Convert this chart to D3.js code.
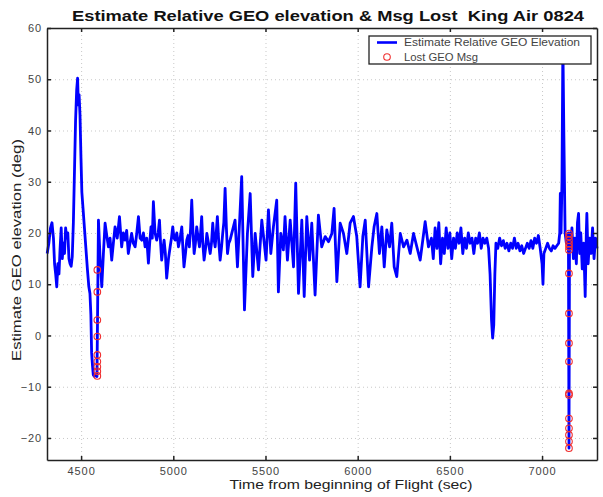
<!DOCTYPE html>
<html>
<head>
<meta charset="utf-8">
<script src="https://cdn.jsdelivr.net/npm/d3@7"></script>
<style>
  body { margin: 0; background: #fff; }
  svg { display: block; font-family: "Liberation Sans", Arial, Helvetica, sans-serif; }
  .axis path, .axis line { stroke: #222; stroke-width: 1.5; }
  .axis text { fill: #444; font-size: 11px; letter-spacing: 0.9px; }
  .grid line { stroke: #c8c8c8; stroke-dasharray: 1,3; }
  .grid path { display: none; }
</style>
</head>
<body>
<svg id="chart"></svg>
<script>
// Estimated relative GEO elevation (deg) vs. time from beginning of flight (sec)
const elevTime = [
  4316, 4325, 4334, 4342, 4350, 4356, 4362, 4368, 4374, 4380, 4386, 4392, 4398, 4404, 4410, 4416,
  4422, 4428, 4434, 4440, 4446, 4452, 4458, 4464, 4470, 4476, 4481, 4485, 4489, 4494, 4499, 4504,
  4510, 4518, 4526, 4534, 4542, 4548, 4553, 4557, 4562, 4566, 4572, 4580, 4586, 4589, 4594,
  4603, 4612, 4621, 4630, 4639, 4648, 4657, 4666, 4675, 4684, 4696, 4708, 4720, 4729, 4738, 4747,
  4756, 4765, 4774, 4783, 4793, 4802, 4811, 4820, 4829, 4838, 4847, 4856, 4865, 4872, 4879, 4886,
  4892, 4901, 4910, 4918, 4925, 4931, 4937, 4944, 4950, 4957, 4964, 4974, 4983, 4990, 4997, 5004,
  5010, 5019, 5028, 5037, 5046, 5052, 5058, 5066, 5073, 5080, 5087, 5094, 5100, 5107, 5113, 5120,
  5127, 5135, 5142, 5148, 5154, 5160, 5167, 5175, 5182, 5191, 5200, 5207, 5214, 5220, 5227, 5233,
  5239, 5247, 5254, 5261, 5268, 5274, 5281, 5288, 5294, 5301, 5308,
  5335, 5348, 5371, 5386, 5402, 5417, 5431, 5444, 5462, 5480, 5503, 5516, 5529, 5543, 5561, 5570,
  5583, 5597, 5606, 5619, 5634, 5652, 5664, 5679, 5697, 5710, 5724, 5739, 5751, 5769, 5787, 5805,
  5824, 5842, 5860, 5872, 5887, 5905, 5923, 5941, 5959, 5977, 5995, 6013, 6028, 6041, 6059, 6077,
  6089, 6104, 6118, 6131, 6144, 6158, 6173, 6185, 6198, 6212, 6231, 6249, 6267, 6285, 6303, 6321,
  6339, 6366, 6384,
  6400, 6410, 6420, 6430, 6440, 6450, 6460, 6470, 6480, 6490, 6500, 6510, 6520, 6530, 6540, 6550,
  6560, 6570, 6580, 6590, 6600, 6610, 6620, 6630, 6640, 6650, 6660, 6670, 6680, 6690, 6700, 6710,
  6718, 6726, 6732, 6738, 6744, 6750, 6760, 6770, 6780, 6790, 6800, 6810, 6820, 6830, 6840, 6850,
  6860, 6870, 6880, 6890, 6900, 6910, 6920, 6930, 6940, 6950, 6960, 6970, 6980, 6990, 7000, 7005,
  7010, 7020, 7030, 7040, 7050, 7060, 7070, 7080, 7090, 7096, 7099, 7103, 7108, 7113, 7118, 7125,
  7132, 7138, 7143, 7146, 7149, 7155, 7162, 7170, 7178, 7186, 7192, 7198, 7204, 7210, 7218, 7226,
  7234, 7240, 7243, 7250, 7258, 7266, 7274, 7282, 7290, 7298
];
const elevDeg = [
  16, 18, 21, 22, 19, 14, 12, 9.5, 14, 12, 17, 21, 15, 18, 16, 21,
  19, 20, 15, 14, 13.5, 15.4, 22, 32, 42, 48, 50.2, 45, 47, 43, 35, 28,
  25, 21, 17, 13, 9.5, 8.2, 4, -3.4, -6, -7.7, -8, -7.5, -8, 3, 22.5,
  15, 9.5, 16, 21.9, 19.5, 17.3, 19, 14.7, 18, 21.2, 19, 23.2, 17.3, 20, 18.6, 20.5,
  16, 18, 19.9, 18, 17.3, 20, 23.2, 19, 18.6, 20, 17.3, 19, 14.1, 18, 21.2, 19,
  26.1, 20, 18.6, 20, 22.5, 18, 14.7, 17, 18.6, 16, 11.2, 15, 17.3, 19, 21.2, 19,
  18.6, 20, 17.3, 19, 21.2, 17, 13.4, 16, 18.6, 19.5, 17.3, 21, 26.4, 20, 16, 18,
  21.2, 19, 17.3, 20, 23.2, 18, 14.7, 17, 19.9, 18, 16, 18, 21.9, 19, 17.3, 20,
  23.2, 18, 14.7, 17, 19.9, 22, 28.7, 21, 16, 18, 18.6,
  22.5, 13.4, 31, 5, 19.9, 27.7, 11.5, 19.9, 12.8, 22.5, 14.7, 24.5, 16, 21.2, 26.4, 8.5,
  19.9, 16.7, 23.2, 14.7, 22.5, 13.4, 29.7, 8.2, 22.5, 7.6, 23.2, 14.7, 21.9, 7.9, 23.5, 17.3,
  19.3, 18.3, 19.9, 24.8, 10.5, 21.9, 19.9, 16, 21.9, 23.2, 19.3, 9.5, 19.3, 22.5, 9.5, 17.3,
  21.2, 23.8, 16, 21.2, 13.4, 20.6, 17.3, 21.9, 13.4, 11.5, 19.9, 17.3, 18.6, 16, 19.9, 17.3,
  14.7, 22.2, 17.3,
  19, 15, 21, 17, 22, 14, 19, 16, 21, 17, 20, 15, 19, 17, 20, 18,
  21, 16, 19, 17, 20, 18, 19, 16, 19, 18, 20, 17, 19, 18, 19, 17,
  12, 3, -0.5, 2, 12, 18, 17, 19, 17.5, 18.5, 17, 18, 16.5, 18, 17, 19,
  17, 18, 16.5, 17.5, 16, 17, 18, 17, 18.5, 17, 19, 18, 19.5, 17, 14, 10,
  16, 17, 18, 17, 16.5, 17.5, 17, 17.5, 18, 20, 27.7, 20, 30, 57, 40, 20,
  18, 19, 20, -22, 20, 17, 21, 15, 19, 14, 22, 23.8, 16, 20, 13, 18,
  7.6, 20, 23.8, 14, 19, 16, 21, 15, 19, 17
];

// Lost GEO messages
const lostTime = [
  4588, 4588, 4588, 4588, 4588, 4588, 4588, 4588, 4588,
  7146, 7146, 7146, 7146, 7146, 7146, 7146, 7146, 7146, 7146, 7146, 7146, 7146, 7146, 7146, 7146, 7146
];
const lostDeg = [
  12.8, 8.5, 3.0, -0.2, -3.8, -5.1, -6.1, -7.0, -7.9,
  19.9, 19.3, 18.6, 17.9, 17.3, 16.7, 12.1, 4.3, -1.5, -5.1, -11.3, -11.6, -16.2, -18.1, -19.4, -20.7, -22.0
];

const xTickValues = [4500, 5000, 5500, 6000, 6500, 7000];
const yTickValues = [-20, -10, 0, 10, 20, 30, 40, 50, 60];
const xDomain = [4315, 7298];
const yDomain = [-24.3, 60];

const titleText = 'Estimate Relative GEO elevation & Msg Lost  King Air 0824';
const xLabelText = 'Time from beginning of Flight (sec)';
const yLabelText = 'Estimate GEO elevation (deg)';
const legendLabels = ['Estimate Relative GEO Elevation', 'Lost GEO Msg'];

class ElevationChart {

  constructor(_config) {
    this.config = {
      parentElement: _config.parentElement,
      containerWidth: _config.containerWidth || 603,
      containerHeight: _config.containerHeight || 497,
      margin: _config.margin || {top: 28, right: 6, bottom: 37, left: 47},
    };
    this.series = elevTime.map((t, i) => ({t: t, v: elevDeg[i]}));
    this.lost = lostTime.map((t, i) => ({t: t, v: lostDeg[i]}));
    this.initVis();
  }

  initVis() {
    let vis = this;

    vis.width = vis.config.containerWidth - vis.config.margin.left - vis.config.margin.right;
    vis.height = vis.config.containerHeight - vis.config.margin.top - vis.config.margin.bottom;

    vis.xScale = d3.scaleLinear().domain(xDomain).range([0, vis.width]);
    vis.yScale = d3.scaleLinear().domain(yDomain).range([vis.height, 0]);

    vis.svg = d3.select(vis.config.parentElement)
        .attr('width', vis.config.containerWidth)
        .attr('height', vis.config.containerHeight);

    vis.svg.append('rect')
        .attr('width', vis.config.containerWidth)
        .attr('height', vis.config.containerHeight)
        .attr('fill', '#fff');

    vis.chart = vis.svg.append('g')
        .attr('transform', `translate(${vis.config.margin.left},${vis.config.margin.top})`);

    // dotted grid
    vis.chart.append('g')
        .attr('class', 'grid')
        .attr('transform', `translate(0,${vis.height})`)
        .call(d3.axisBottom(vis.xScale).tickValues(xTickValues).tickSize(-vis.height).tickFormat(''));
    vis.chart.append('g')
        .attr('class', 'grid')
        .call(d3.axisLeft(vis.yScale).tickValues(yTickValues).tickSize(-vis.width).tickFormat(''));

    vis.renderVis();
  }

  renderVis() {
    let vis = this;

    const line = d3.line()
        .x(d => vis.xScale(d.t))
        .y(d => vis.yScale(d.v));

    vis.chart.append('path')
        .datum(vis.series)
        .attr('fill', 'none')
        .attr('stroke', '#0000ff')
        .attr('stroke-width', 2.8)
        .attr('stroke-linejoin', 'round')
        .attr('d', line);

    vis.chart.selectAll('.lost')
        .data(vis.lost)
        .join('circle')
          .attr('class', 'lost')
          .attr('cx', d => vis.xScale(d.t))
          .attr('cy', d => vis.yScale(d.v))
          .attr('r', 3.3)
          .attr('fill', 'none')
          .attr('stroke', '#f03030')
          .attr('stroke-width', 1.1);

    // box axes, ticks pointing inward like matlab
    const fmt = d3.format('d');
    vis.chart.append('g')
        .attr('class', 'axis x-axis')
        .attr('transform', `translate(0,${vis.height})`)
        .call(d3.axisBottom(vis.xScale).tickValues(xTickValues).tickFormat(fmt)
            .tickSize(-4).tickSizeOuter(0).tickPadding(7));
    vis.chart.append('g')
        .attr('class', 'axis')
        .call(d3.axisTop(vis.xScale).tickValues(xTickValues).tickSize(-4).tickSizeOuter(0).tickFormat(''));
    vis.chart.append('g')
        .attr('class', 'axis y-axis')
        .call(d3.axisLeft(vis.yScale).tickValues(yTickValues).tickFormat(fmt)
            .tickSize(-4).tickSizeOuter(0).tickPadding(5));
    vis.chart.append('g')
        .attr('class', 'axis')
        .attr('transform', `translate(${vis.width},0)`)
        .call(d3.axisRight(vis.yScale).tickValues(yTickValues).tickSize(-4).tickSizeOuter(0).tickFormat(''));

    // legend (drawn over the data)
    const legend = vis.svg.append('g').attr('transform', 'translate(369,36)');
    legend.append('rect')
        .attr('width', 222)
        .attr('height', 28)
        .attr('fill', '#fff')
        .attr('stroke', '#222')
        .attr('stroke-width', 1.3);
    legend.append('line')
        .attr('x1', 8).attr('x2', 28)
        .attr('y1', 6.5).attr('y2', 6.5)
        .attr('stroke', '#0000ff')
        .attr('stroke-width', 2.6);
    legend.append('circle')
        .attr('cx', 18).attr('cy', 21)
        .attr('r', 3.3)
        .attr('fill', 'none')
        .attr('stroke', '#f03030')
        .attr('stroke-width', 1.1);
    legend.selectAll('.legend-label')
        .data(legendLabels)
        .join('text')
          .attr('class', 'legend-label')
          .attr('x', 35)
          .attr('y', (d, i) => 10 + i * 15)
          .attr('font-size', 10.5)
          .attr('fill', '#444')
          .attr('textLength', (d, i) => i === 0 ? 176 : 74)
          .attr('lengthAdjust', 'spacingAndGlyphs')
          .text(d => d);

    // titles
    vis.svg.append('text')
        .attr('x', 328)
        .attr('y', 21)
        .attr('text-anchor', 'middle')
        .attr('font-size', 15)
        .attr('font-weight', 'bold')
        .attr('fill', '#111')
        .style('white-space', 'pre')
        .attr('textLength', 512)
        .attr('lengthAdjust', 'spacingAndGlyphs')
        .text(titleText);

    vis.svg.append('text')
        .attr('x', 351)
        .attr('y', 489)
        .attr('text-anchor', 'middle')
        .attr('font-size', 13)
        .attr('fill', '#222')
        .attr('textLength', 243)
        .attr('lengthAdjust', 'spacingAndGlyphs')
        .text(xLabelText);

    vis.svg.append('text')
        .attr('transform', 'translate(21,250) rotate(-90)')
        .attr('text-anchor', 'middle')
        .attr('font-size', 13)
        .attr('fill', '#222')
        .attr('textLength', 222)
        .attr('lengthAdjust', 'spacingAndGlyphs')
        .text(yLabelText);
  }
}

new ElevationChart({parentElement: '#chart'});
</script>
</body>
</html>
